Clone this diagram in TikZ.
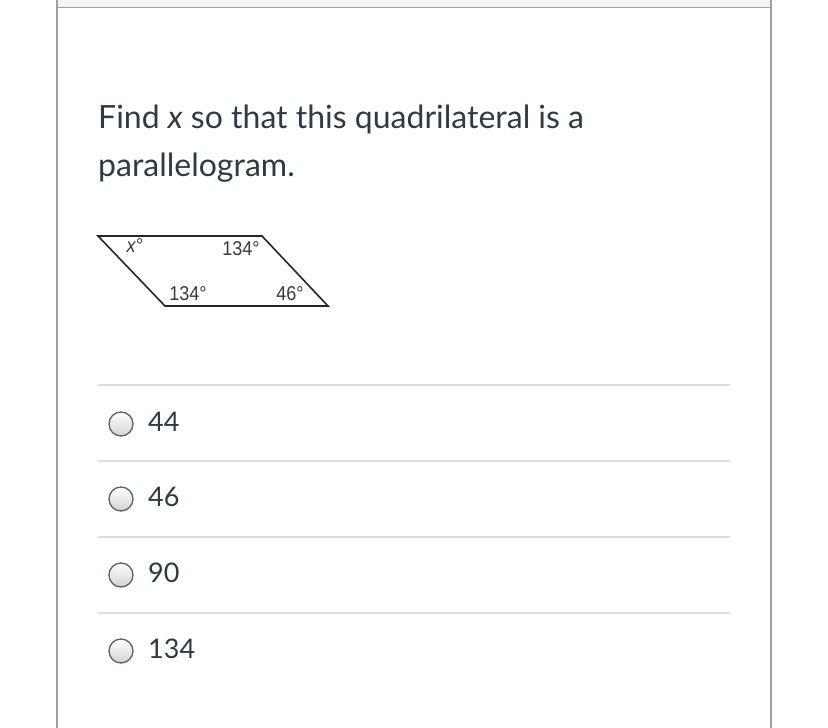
\documentclass[tikz,border=0pt]{standalone}
\usepackage{xcolor}
\usepackage{fontspec}
\setmainfont{Lato}
\newfontfamily\figfont{Liberation Sans}
\usepackage{tikz}

\definecolor{frameGray}{HTML}{A0A0A0}
\definecolor{ruleGray}{HTML}{DDDDDD}
\definecolor{textDark}{HTML}{2D3B45}
\definecolor{angleGray}{HTML}{3A3A3A}

\tikzset{
	radio/.style={circle,draw=textDark!80,line width=1.3pt,minimum size=24pt,inner sep=0pt,top color=white,bottom color=gray!35},
	choice/.style={anchor=west,font=\fontsize{27}{30}\selectfont,text=textDark,inner sep=0pt},
	angleLbl/.style={font=\figfont\fontsize{20}{22}\selectfont,text=angleGray,inner sep=0pt,xscale=0.9}
}

\begin{document}
\begin{tikzpicture}[x=1pt,y=-1pt]
	\useasboundingbox (0,0) rectangle (828,728);
	\fill[white] (0,0) rectangle (828,728);
	\fill[gray!8] (57,0) rectangle (771,7);
	\draw[frameGray,line width=1.5pt] (57,7.5) -- (771,7.5);
	\draw[frameGray,line width=1.5pt] (57,0) -- (57,728);
	\draw[frameGray,line width=1.5pt] (771,0) -- (771,728);

	\node[anchor=base west,inner sep=0pt,text=textDark,font=\fontsize{32}{48}\selectfont,align=left] (question) at (98,176) {Find \textit{x} so that this quadrilateral is a\\parallelogram.};

	\coordinate (tl) at (98,236);
	\coordinate (tr) at (262,236);
	\coordinate (br) at (328,306);
	\coordinate (bl) at (165,306);
	\draw[line width=1.6pt,black!85,line join=miter] (tl) -- (tr) -- (br) -- (bl) -- cycle;

	\node[angleLbl] (angX) at (135,246) {\textit{x}°};
	\node[angleLbl] (angTR) at (241,249) {134°};
	\node[angleLbl] (angBL) at (188,294) {134°};
	\node[angleLbl] (angBR) at (290,294) {46°};

	\draw[ruleGray,line width=1.5pt] (98,385) -- (730,385);
	\draw[ruleGray,line width=1.5pt] (98,461) -- (730,461);
	\draw[ruleGray,line width=1.5pt] (98,537) -- (730,537);
	\draw[ruleGray,line width=1.5pt] (98,613) -- (730,613);

	\node[radio] (radA) at (121,424) {};
	\node[choice] (optA) at (148,422) {44};
	\node[radio] (radB) at (121,499) {};
	\node[choice] (optB) at (148,497) {46};
	\node[radio] (radC) at (121,575) {};
	\node[choice] (optC) at (148,573) {90};
	\node[radio] (radD) at (121,651) {};
	\node[choice] (optD) at (148,649) {134};

\end{tikzpicture}
\end{document}
